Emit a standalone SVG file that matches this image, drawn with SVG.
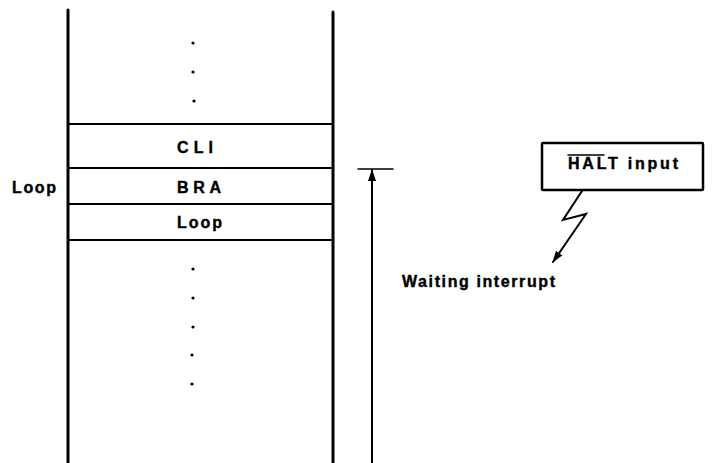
<svg xmlns="http://www.w3.org/2000/svg" width="713" height="463" viewBox="0 0 713 463">
<style>
.t{font-family:"Liberation Sans",Arial,sans-serif;font-weight:bold;font-size:16px;fill:#000;stroke:#000;stroke-width:0.4}
.ln{stroke:#000;fill:none;stroke-linecap:round}
.dot{fill:#000}
</style>
<defs>
<marker id="ah" viewBox="0 0 12 10" refX="11" refY="5" markerWidth="12" markerHeight="10" markerUnits="userSpaceOnUse" orient="auto">
<path d="M0,1 L12,5 L0,9 Z" fill="#000"/>
</marker>
</defs>
<rect width="713" height="463" fill="#fff"/>
<g id="memory">
<line class="ln" x1="68" y1="10" x2="68" y2="463" stroke-width="3"/>
<line class="ln" x1="333" y1="12" x2="333" y2="463" stroke-width="3"/>
<line class="ln" x1="68" y1="124" x2="333" y2="124" stroke-width="2"/>
<line class="ln" x1="68" y1="168" x2="333" y2="168" stroke-width="2"/>
<line class="ln" x1="68" y1="204" x2="333" y2="204" stroke-width="2"/>
<line class="ln" x1="68" y1="240" x2="333" y2="240" stroke-width="2"/>
<circle class="dot" cx="193" cy="43" r="1.6"/>
<circle class="dot" cx="193" cy="72" r="1.6"/>
<circle class="dot" cx="194" cy="101" r="1.6"/>
<circle class="dot" cx="193" cy="269" r="1.6"/>
<circle class="dot" cx="193" cy="298" r="1.6"/>
<circle class="dot" cx="193" cy="327" r="1.6"/>
<circle class="dot" cx="192" cy="355" r="1.6"/>
<circle class="dot" cx="192" cy="384" r="1.6"/>
</g>
<g id="cli"><text class="t" x="177" y="153" textLength="36" lengthAdjust="spacing">CLI</text></g>
<g id="bra"><text class="t" x="177" y="193" textLength="44" lengthAdjust="spacing">BRA</text></g>
<g id="loop-cell"><text class="t" x="177" y="228" textLength="45" lengthAdjust="spacing">Loop</text></g>
<g id="loop-label"><text class="t" x="12" y="193" textLength="44" lengthAdjust="spacing">Loop</text></g>
<g id="halt">
<rect x="542" y="143" width="161" height="47" fill="none" stroke="#000" stroke-width="2.5" rx="1"/>
<text class="t" x="568" y="169" textLength="110" lengthAdjust="spacing">HALT input</text>
<line class="ln" x1="568" y1="155" x2="604" y2="155" stroke-width="1.5"/>
</g>
<g id="waiting"><text class="t" x="402" y="287" textLength="153" lengthAdjust="spacing">Waiting interrupt</text></g>
<g id="connectors">
<line class="ln" x1="358" y1="169" x2="393" y2="169" stroke-width="1.5"/>
<line class="ln" x1="372" y1="463" x2="372" y2="170" stroke-width="2" marker-end="url(#ah)"/>
<polyline class="ln" points="582,191 563,220 586,214 553,262" stroke-width="2" stroke-linejoin="miter" marker-end="url(#ah)"/>
</g>
</svg>
